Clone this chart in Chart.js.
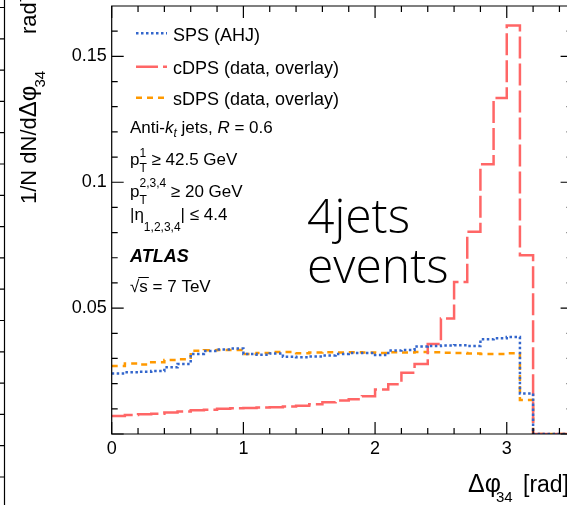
<!DOCTYPE html>
<html>
<head>
<meta charset="utf-8">
<script src="https://cdn.jsdelivr.net/npm/chart.js@4.4.1/dist/chart.umd.min.js"></script>
<style>
  html, body { margin: 0; padding: 0; background: #fff; overflow: hidden; }
  body { width: 567px; height: 505px; }
  canvas { display: block; }
</style>
</head>
<body>
<canvas id="dphi" width="580" height="505"></canvas>
<script>
// bin edges of the delta-phi_34 histograms [rad]
const binEdges = [0.0, 0.1, 0.2, 0.3, 0.4, 0.5, 0.6, 0.7, 0.8, 0.9,
                  1.0, 1.1, 1.2, 1.3, 1.4, 1.5, 1.6, 1.7, 1.8, 1.9,
                  2.0, 2.1, 2.2, 2.3, 2.4, 2.5, 2.6, 2.7, 2.8, 2.9,
                  3.0, 3.1, 3.2, 3.3, 3.4, 3.5];

// 1/N dN/d(delta phi) per bin
const spsAHJ = [0.0240, 0.0245, 0.0247, 0.0250, 0.0265, 0.0278, 0.0318, 0.0330, 0.0336, 0.0340,
                0.0318, 0.0315, 0.0320, 0.0307, 0.0305, 0.0308, 0.0312, 0.0318, 0.0322, 0.0322,
                0.0314, 0.0332, 0.0334, 0.0348, 0.0350, 0.0352, 0.0353, 0.0350, 0.0376, 0.0380,
                0.0385, 0.0161, 0, 0, 0];
const cDPS = [0.0071, 0.0075, 0.0078, 0.0080, 0.0085, 0.0089, 0.0094, 0.0096, 0.0100, 0.0102,
              0.0103, 0.0105, 0.0106, 0.0109, 0.0112, 0.0118, 0.0126, 0.0133, 0.0138, 0.0150,
              0.0177, 0.0198, 0.0243, 0.0278, 0.0357, 0.0459, 0.0604, 0.0803, 0.1071, 0.1335,
              0.1623, 0.0710, 0, 0, 0];
const sDPS = [0.0270, 0.0280, 0.0276, 0.0285, 0.0294, 0.0297, 0.0331, 0.0333, 0.0334, 0.0334,
              0.0318, 0.0322, 0.0326, 0.0326, 0.0321, 0.0324, 0.0325, 0.0324, 0.0325, 0.0324,
              0.0322, 0.0325, 0.0324, 0.0326, 0.0325, 0.0323, 0.0322, 0.0320, 0.0318, 0.0318,
              0.0321, 0.0135, 0, 0, 0];

const seriesNames = ['SPS (AHJ)', 'cDPS (data, overlay)', 'sDPS (data, overlay)'];
const xTickValues = [0, 1, 2, 3];
const yTickValues = [0.05, 0.1, 0.15];

const SANS = '"Liberation Sans", Arial, Helvetica, sans-serif';

// histogram -> step points at lower bin edges, closed at the last upper edge
function toSteps(values) {
    const pts = values.map((v, i) => ({ x: binEdges[i], y: v }));
    pts.push({ x: binEdges[values.length], y: values[values.length - 1] });
    return pts;
}

// draws a list of text pieces left to right, returns end x
function drawRuns(ctx, x, y, runs) {
    runs.forEach(r => {
        if (r.stack) {
            ctx.font = r.stack.font;
            const w1 = ctx.measureText(r.stack.sup).width;
            const w2 = ctx.measureText(r.stack.sub).width;
            ctx.fillText(r.stack.sup, x, y + r.stack.supDy);
            ctx.fillText(r.stack.sub, x, y + r.stack.subDy);
            x += Math.max(w1, w2);
            return;
        }
        ctx.font = r.font;
        ctx.fillText(r.text, x, y + (r.dy || 0));
        x += ctx.measureText(r.text).width + (r.gap || 0);
    });
    return x;
}

const decorations = {
    id: 'decorations',
    afterDraw(chart) {
        const { ctx, chartArea: a, scales } = chart;
        const xs = scales.x, ys = scales.y;
        ctx.save();
        ctx.strokeStyle = '#000';
        ctx.fillStyle = '#000';
        ctx.lineWidth = 1.2;

        // frame
        ctx.beginPath();
        ctx.moveTo(a.right, a.top);
        ctx.lineTo(a.left, a.top);
        ctx.lineTo(a.left, a.bottom);
        ctx.lineTo(a.right, a.bottom);
        ctx.lineTo(a.right, a.top);
        ctx.stroke();

        // inward tick marks on all four sides: majors at the labelled
        // values, minors every 0.2 rad / 0.01
        ctx.beginPath();
        for (let k = 0; k * 0.2 < xs.max - 1e-6; k++) {
            const px = xs.getPixelForValue(k * 0.2);
            const len = k % 5 === 0 ? 12 : 6;
            ctx.moveTo(px, a.bottom); ctx.lineTo(px, a.bottom - len);
            ctx.moveTo(px, a.top); ctx.lineTo(px, a.top + len);
        }
        for (let k = 0; k * 0.01 < ys.max - 1e-6; k++) {
            const py = ys.getPixelForValue(k * 0.01);
            const len = k % 5 === 0 ? 12 : 6;
            ctx.moveTo(a.left, py); ctx.lineTo(a.left + len, py);
            ctx.moveTo(a.right, py); ctx.lineTo(a.right - len, py);
        }
        ctx.stroke();

        // right edge of the neighbouring panel
        ctx.beginPath();
        ctx.moveTo(4.5, 0); ctx.lineTo(4.5, 505);
        for (let y = 7.5; y < 505; y += 31.3) {
            ctx.moveTo(0, y); ctx.lineTo(4.5, y);
        }
        ctx.stroke();

        // legend
        const legY = [33.3, 66.7, 97.7];
        chart.data.datasets.forEach((ds, i) => {
            ctx.save();
            ctx.strokeStyle = ds.borderColor;
            ctx.lineWidth = ds.borderWidth;
            ctx.setLineDash(ds.borderDash);
            ctx.beginPath();
            ctx.moveTo(136, legY[i]); ctx.lineTo(167, legY[i]);
            ctx.stroke();
            ctx.restore();
            ctx.font = '18px ' + SANS;
            ctx.fillText(ds.label, 173, legY[i] + 7.5);
        });

        // selection text
        const f17 = '17px ' + SANS, i17 = 'italic 17px ' + SANS;
        const s12 = '12px ' + SANS, i12 = 'italic 12px ' + SANS;
        drawRuns(ctx, 130, 133, [
            { text: 'Anti-', font: f17 }, { text: 'k', font: i17 },
            { text: 't', font: i12, dy: 4 }, { text: ' jets, ', font: f17 },
            { text: 'R', font: i17 }, { text: ' = 0.6', font: f17 }
        ]);
        drawRuns(ctx, 130, 165, [
            { text: 'p', font: f17 },
            { stack: { sup: '1', sub: 'T', font: s12, supDy: -8, subDy: 7 } },
            { text: ' \u2265 42.5 GeV', font: f17 }
        ]);
        drawRuns(ctx, 130, 197, [
            { text: 'p', font: f17 },
            { stack: { sup: '2,3,4', sub: 'T', font: s12, supDy: -10, subDy: 7 } },
            { text: ' \u2265 20 GeV', font: f17 }
        ]);
        drawRuns(ctx, 130, 220, [
            { text: '|\u03b7', font: f17 },
            { text: '1,2,3,4', font: s12, dy: 11 },
            { text: '| \u2264 4.4', font: f17 }
        ]);
        ctx.font = 'italic bold 18px ' + SANS;
        ctx.fillText('ATLAS', 130, 262);
        const sx = drawRuns(ctx, 130, 292, [{ text: '\u221a', font: f17 }]);
        const ex = drawRuns(ctx, sx, 292, [{ text: 's', font: f17 }]);
        drawRuns(ctx, ex, 292, [{ text: ' = 7 TeV', font: f17 }]);
        ctx.beginPath();
        ctx.lineWidth = 1;
        ctx.moveTo(sx - 1, 277.5); ctx.lineTo(ex + 1, 277.5);
        ctx.stroke();

        // channel tag
        ctx.font = '300 48px "Open Sans", sans-serif';
        ctx.fillText('4jets', 307, 233);
        ctx.fillText('events', 307, 283);

        // x axis title
        drawRuns(ctx, 468, 492, [
            { text: '\u0394\u03c6', font: '25px ' + SANS, gap: -5 },
            { text: '34', font: '15px ' + SANS, dy: 10, gap: 4 },
            { text: ' [rad]', font: '23px ' + SANS }
        ]);

        // y axis title, rotated
        ctx.translate(36, 204);
        ctx.rotate(-Math.PI / 2);
        drawRuns(ctx, 0, 0, [
            { text: '1/N dN/d', font: '22px ' + SANS },
            { text: '\u0394\u03c6', font: '24px ' + SANS, gap: -2 },
            { text: '34', font: '15px ' + SANS, dy: 9 }
        ]);
        drawRuns(ctx, 170, 0, [
            { text: 'rad', font: '22px ' + SANS },
            { text: '-1', font: '15px ' + SANS, dy: -11 }
        ]);
        ctx.restore();
    }
};

new Chart(document.getElementById('dphi'), {
    type: 'line',
    data: {
        datasets: [
            { label: seriesNames[0], data: toSteps(spsAHJ), borderColor: '#3366cc',
              borderDash: [2.5, 2.5], borderWidth: 2.5, stepped: true, pointRadius: 0, fill: false },
            { label: seriesNames[1], data: toSteps(cDPS), borderColor: '#ff6666',
              borderDash: [22, 5], borderWidth: 2.5, stepped: true, pointRadius: 0, fill: false },
            { label: seriesNames[2], data: toSteps(sDPS), borderColor: '#ff9900',
              borderDash: [6, 5], borderWidth: 2.5, stepped: true, pointRadius: 0, fill: false }
        ]
    },
    plugins: [decorations],
    options: {
        responsive: false,
        animation: false,
        devicePixelRatio: 1,
        layout: { padding: { top: 6, right: 7.4, left: 0, bottom: 0 } },
        plugins: { legend: { display: false }, tooltip: { enabled: false } },
        scales: {
            x: {
                type: 'linear', min: 0, max: 3.5,
                grid: { display: false, drawTicks: false }, border: { display: false },
                afterBuildTicks: s => { s.ticks = xTickValues.map(v => ({ value: v })); },
                ticks: {
                    autoSkip: false, maxRotation: 0, padding: 4,
                    color: '#000', font: { family: SANS, size: 18 },
                    callback: v => String(v)
                },
                afterFit: s => { s.height = 71; s.paddingLeft = 0; s.paddingRight = 0; }
            },
            y: {
                min: 0, max: 0.17,
                grid: { display: false, drawTicks: false }, border: { display: false },
                afterBuildTicks: s => { s.ticks = yTickValues.map(v => ({ value: v })); },
                ticks: {
                    autoSkip: false, padding: 5,
                    color: '#000', font: { family: SANS, size: 18 },
                    callback: v => String(v)
                },
                afterFit: s => { s.width = 111.7; s.paddingTop = 0; s.paddingBottom = 0; }
            }
        }
    }
});
</script>
</body>
</html>
